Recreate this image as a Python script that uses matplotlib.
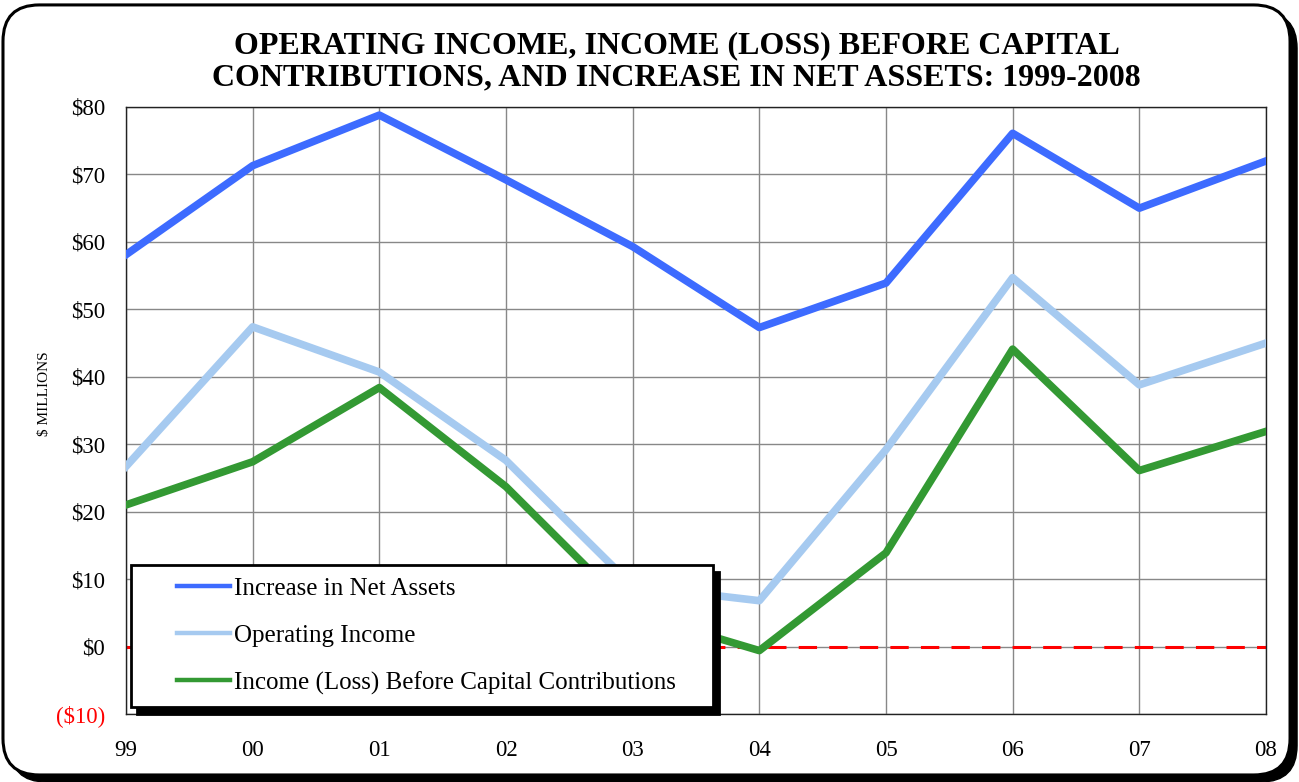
import matplotlib
matplotlib.use("Agg")
import matplotlib.pyplot as plt
import numpy as np
from matplotlib.patches import FancyBboxPatch
from matplotlib.legend_handler import HandlerLine2D

plt.rcParams['font.family'] = ['Liberation Serif', 'DejaVu Serif']

years = ["99", "00", "01", "02", "03", "04", "05", "06", "07", "08"]
net_assets = [58.1, 71.3, 78.8, 69.2, 59.3, 47.3, 53.9, 76.1, 65.0, 72.0]
operating_income = [26.7, 47.4, 40.7, 27.6, 9.0, 6.8, 29.2, 54.7, 38.8, 45.0]
income_before_cap = [21.0, 27.4, 38.4, 23.7, 5.0, -0.6, 13.9, 44.1, 26.1, 31.9]
yticks = [-10, 0, 10, 20, 30, 40, 50, 60, 70, 80]


class ShortLine(HandlerLine2D):
    # legend line drawn only on the right part of the handle box
    def create_artists(self, legend, orig_handle, xdescent, ydescent, width, height, fontsize, trans):
        arts = super().create_artists(legend, orig_handle, xdescent, ydescent, width, height, fontsize, trans)
        for a in arts:
            xd = np.asarray(a.get_xdata(), dtype=float)
            if len(xd) >= 2:
                start = xd[0] + (xd[-1] - xd[0]) * 0.39
                a.set_xdata(np.linspace(start, xd[-1], len(xd)))
            a.set_linewidth(3.2)
        return arts


fig = plt.figure(figsize=(12.99, 7.82), dpi=100)

# rounded outer frame with shadow
shadow = FancyBboxPatch((0.0077, 0.0), 0.9908, 0.9847, boxstyle="round,pad=0,rounding_size=0.028",
                        transform=fig.transFigure, facecolor="black", edgecolor="black",
                        mutation_aspect=1299 / 782, zorder=-2)
frame = FancyBboxPatch((0.0023, 0.009), 0.9908, 0.9847, boxstyle="round,pad=0,rounding_size=0.028",
                       transform=fig.transFigure, facecolor="white", edgecolor="black", lw=2.2,
                       mutation_aspect=1299 / 782, zorder=-1)
fig.patches.extend([shadow, frame])

ax = fig.add_axes([126 / 1299, 1 - 714 / 782, (1266 - 126) / 1299, (714 - 107) / 782])
ax.set_zorder(1)
x = range(len(years))
ax.plot(x, net_assets, color="#3d6bff", lw=5.5, label="Increase in Net Assets", zorder=3)
ax.plot(x, operating_income, color="#a6caf0", lw=5.5, label="Operating Income", zorder=3)
ax.plot(x, income_before_cap, color="#339933", lw=5.5,
        label="Income (Loss) Before Capital Contributions", zorder=3)
ax.axhline(0, color="red", lw=2.2, ls=(0, (6, 4)), zorder=2)

ax.set_xlim(0, 9)
ax.set_ylim(-10, 80)
ax.set_xticks(list(x))
ax.set_xticklabels(years, fontsize=16.5)
ax.set_yticks(yticks)
ylabels = ["(${})".format(-v) if v < 0 else "${}".format(v) for v in yticks]
ax.set_yticklabels(ylabels, fontsize=16.5)
ax.get_yticklabels()[0].set_color("red")
ax.tick_params(axis="x", length=0, pad=18.5)
ax.tick_params(axis="y", length=0, pad=15)
ax.grid(True, color="#888888", lw=1)
for s in ax.spines.values():
    s.set_color("#222222")
    s.set_linewidth(1)
ax.set_ylabel("$ MILLIONS", fontsize=11)
ax.yaxis.set_label_coords(-0.066, 0.527)

leg = ax.legend(loc="lower left", bbox_to_anchor=(0.0045, 0.0115, 0.5105, 0.2), mode="expand",
                fontsize=18, frameon=True, fancybox=False, shadow={"color": "black", "alpha": 1, "ox": 4, "oy": -5},
                handlelength=3.45, handletextpad=0.15, labelspacing=0.98, borderpad=0.5,
                borderaxespad=0, handler_map={plt.Line2D: ShortLine()})
leg.get_frame().set_edgecolor("black")
leg.get_frame().set_linewidth(2)
leg.get_frame().set_alpha(1)

fig.text(0.521, 0.921, "OPERATING INCOME, INCOME (LOSS) BEFORE CAPITAL\nCONTRIBUTIONS, AND INCREASE IN NET ASSETS: 1999-2008",
         ha="center", va="center", fontsize=23, fontweight="bold", linespacing=1.12)

fig.savefig("out.png", dpi=100)
